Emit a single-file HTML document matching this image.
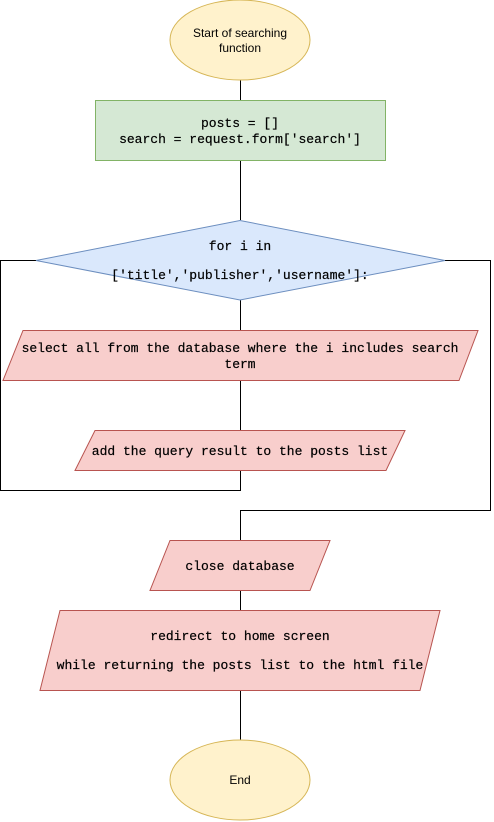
<!DOCTYPE html>
<html><head><meta charset="utf-8"><style>
html,body{margin:0;padding:0;background:#fff;}
svg{display:block;}
.m{font-family:"Liberation Mono","Courier New",monospace;font-size:13px;fill:#000;stroke:#000;stroke-width:0.2;}
.s{font-family:"Liberation Sans",Arial,sans-serif;font-size:12px;fill:#000;}
</style></head><body>
<svg width="494" height="822" viewBox="0 0 494 822" xmlns="http://www.w3.org/2000/svg">
<g stroke="#000" stroke-width="1" fill="none">
<path d="M240.5 80V100M240.5 160V220M240.5 300V330M240.5 380V430M240.5 470V490.5H0.5V260.5H36"/>
<path d="M445 260.5H490.5V510.5H240.5V540M240.5 590V610M240.5 690V750"/>
</g>
<ellipse cx="240" cy="40" rx="70" ry="40" fill="#fff2cc" stroke="#d6b656"/>
<text class="s" x="240" y="37" text-anchor="middle">Start of searching</text>
<text class="s" x="240" y="52" text-anchor="middle">function</text>
<rect x="95.5" y="100.5" width="290" height="60" fill="#d5e8d4" stroke="#82b366"/>
<text class="m" x="240" y="127" text-anchor="middle">posts = []</text>
<text class="m" x="240" y="143" text-anchor="middle">search = request.form['search']</text>
<polygon points="240,220.5 445,260.5 240,300 36,260.5" fill="#dae8fc" stroke="#6c8ebf"/>
<text class="m" x="240" y="250" text-anchor="middle">for i in</text>
<text class="m" x="240" y="279" text-anchor="middle">['title','publisher','username']:</text>
<polygon points="23,330.5 478,330.5 459,380.5 3,380.5" fill="#f8cecc" stroke="#b85450"/>
<text class="m" x="240" y="352" text-anchor="middle">select all from the database where the i includes search</text>
<text class="m" x="240" y="368" text-anchor="middle">term</text>
<polygon points="95,430.5 405,430.5 386,470.5 75,470.5" fill="#f8cecc" stroke="#b85450"/>
<text class="m" x="240" y="455" text-anchor="middle">add the query result to the posts list</text>
<polygon points="170,540.5 330,540.5 310,590.5 150,590.5" fill="#f8cecc" stroke="#b85450"/>
<text class="m" x="240" y="570" text-anchor="middle">close database</text>
<polygon points="60,610.5 440,610.5 420,690.5 40,690.5" fill="#f8cecc" stroke="#b85450"/>
<text class="m" x="240" y="640" text-anchor="middle">redirect to home screen</text>
<text class="m" x="240" y="669" text-anchor="middle">while returning the posts list to the html file</text>
<ellipse cx="240" cy="780" rx="70" ry="40" fill="#fff2cc" stroke="#d6b656"/>
<text class="s" x="240" y="784" text-anchor="middle">End</text>
</svg>
</body></html>
